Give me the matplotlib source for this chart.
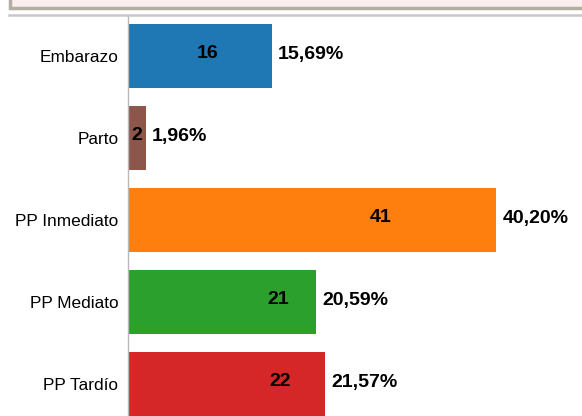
import matplotlib.pyplot as plt
from matplotlib.patches import Rectangle
from matplotlib.lines import Line2D

plt.rcParams['font.family'] = ['Liberation Sans', 'DejaVu Sans']

categorias = ['Embarazo', 'Parto', 'PP Inmediato', 'PP Mediato', 'PP Tardío']
casos = [16, 2, 41, 21, 22]
porcentajes = ['15,69%', '1,96%', '40,20%', '20,59%', '21,57%']
colores = ['#1f77b4', '#8c564b', '#ff7f0e', '#2ca02c', '#d62728']
# where the count label sits along each bar (data units)
pos_conteo = [8.9, 1.0, 28.2, 16.7, 16.9]

fig = plt.figure(figsize=(5.82, 4.16), dpi=100)
ax = fig.add_axes([128/582, 0, 1 - 128/582, (416 - 15)/416])

y = list(range(len(categorias)))
ax.barh(y, casos, height=0.78, color=colores)

for i in y:
    ax.text(pos_conteo[i], i - 0.03, str(casos[i]), ha='center', va='center',
            fontsize=14, fontweight='bold', color='black')
    ax.text(casos[i] + 0.7, i - 0.02, porcentajes[i], ha='left', va='center',
            fontsize=14, fontweight='bold', color='black')

ax.set_xlim(0, 454/8.976)
ax.set_ylim(4.39, -0.5)
ax.set_yticks(y)
ax.set_yticklabels(categorias, fontsize=12.4)
ax.tick_params(axis='y', length=0, pad=7)
ax.set_xticks([])
for s in ['top', 'right', 'bottom']:
    ax.spines[s].set_visible(False)
ax.spines['left'].set_color('#b8b8b8')
ax.spines['left'].set_linewidth(1)

# header box and separator line above the chart
fig.patches.append(Rectangle((10/582, 1 - 8/416), 1, 0.1, transform=fig.transFigure,
                             facecolor='#faeeee', edgecolor='#b3aea3', linewidth=2.5))
fig.lines.append(Line2D([9/582, 1], [1 - 14.5/416, 1 - 14.5/416], transform=fig.transFigure,
                        color='#c8c8c8', linewidth=1.8))

fig.savefig('out.png', dpi=100)
